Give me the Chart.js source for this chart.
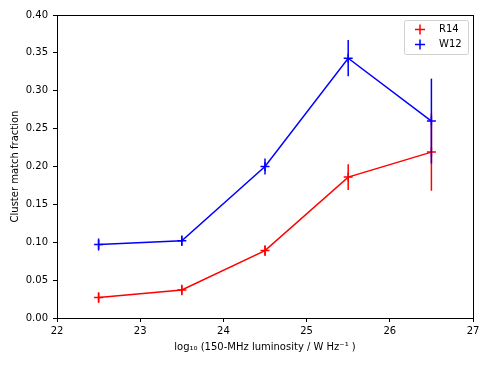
<!DOCTYPE html>
<html lang="en">
<head>
    <meta charset="UTF-8">
    <title>Cluster match fraction</title>
    <script src="https://cdn.jsdelivr.net/npm/chart.js"></script>
    <style>
        body {
            margin: 0;
            background-color: #fff;
        }
        #box {
            width: 490px;
            height: 368px;
        }
    </style>
</head>
<body>

<div id="box">
    <canvas id="grafico"></canvas>
</div>

<script>
const luminosity = [22.5, 23.5, 24.5, 25.5, 26.5];
const r14Fraction = [0.027, 0.037, 0.089, 0.186, 0.219];
const r14Error = [0.007, 0.007, 0.007, 0.017, 0.051];
const w12Fraction = [0.097, 0.102, 0.200, 0.343, 0.260];
const w12Error = [0.008, 0.007, 0.0105, 0.024, 0.056];
const xTicks = [22, 23, 24, 25, 26, 27];
const yTicks = [0, 0.05, 0.10, 0.15, 0.20, 0.25, 0.30, 0.35, 0.40];

const FONT = "'DejaVu Sans', sans-serif";

function toPoints(xs, ys) {
    return xs.map((x, i) => ({ x: x, y: ys[i] }));
}

// vertical error bars, drawn right after each dataset
const errorBars = {
    id: 'errorBars',
    afterDatasetDraw(chart, args) {
        const ds = chart.data.datasets[args.index];
        if (!ds.errors) return;
        const ctx = chart.ctx;
        const xs = chart.scales.x;
        const ys = chart.scales.y;
        ctx.save();
        ctx.strokeStyle = ds.borderColor;
        ctx.lineWidth = 1.5;
        ds.data.forEach((p, i) => {
            const px = xs.getPixelForValue(p.x);
            ctx.beginPath();
            ctx.moveTo(px, ys.getPixelForValue(p.y - ds.errors[i]));
            ctx.lineTo(px, ys.getPixelForValue(p.y + ds.errors[i]));
            ctx.stroke();
        });
        ctx.restore();
    }
};

// axes frame on all four sides + legend box in the upper right
const frameLegend = {
    id: 'frameLegend',
    afterDraw(chart) {
        const ctx = chart.ctx;
        const a = chart.chartArea;
        ctx.save();
        ctx.strokeStyle = '#000';
        ctx.lineWidth = 1;
        ctx.strokeRect(Math.round(a.left) + 0.5, Math.round(a.top) + 0.5,
            Math.round(a.right - a.left), Math.round(a.bottom - a.top));

        const bx = a.right - 69, by = a.top + 5, bw = 64, bh = 34;
        ctx.beginPath();
        ctx.roundRect(bx + 0.5, by + 0.5, bw, bh, 2);
        ctx.fillStyle = 'rgba(255,255,255,0.8)';
        ctx.fill();
        ctx.strokeStyle = '#d0d0d0';
        ctx.stroke();

        const items = chart.data.datasets.map(d => ({ label: d.label, color: d.borderColor }));
        ctx.font = '10px ' + FONT;
        ctx.textBaseline = 'middle';
        items.forEach((it, i) => {
            const cy = by + 9.5 + i * 15;
            const cx = bx + 16;
            ctx.strokeStyle = it.color;
            ctx.lineWidth = 1.5;
            ctx.beginPath();
            ctx.moveTo(cx - 5, cy); ctx.lineTo(cx + 5, cy);
            ctx.moveTo(cx, cy - 5); ctx.lineTo(cx, cy + 5);
            ctx.stroke();
            ctx.fillStyle = '#000';
            ctx.fillText(it.label, bx + 35, cy);
        });
        ctx.restore();
    }
};

const ctx = document.getElementById('grafico').getContext('2d');

new Chart(ctx, {
    type: 'line',
    data: {
        datasets: [{
            label: 'R14',
            data: toPoints(luminosity, r14Fraction),
            errors: r14Error,
            borderColor: '#ff0000',
            backgroundColor: '#ff0000',
            borderWidth: 1.5,
            pointStyle: 'cross',
            pointRadius: 4.5,
            pointBorderWidth: 1.5,
            tension: 0,
            order: 1
        }, {
            label: 'W12',
            data: toPoints(luminosity, w12Fraction),
            errors: w12Error,
            borderColor: '#0000ff',
            backgroundColor: '#0000ff',
            borderWidth: 1.5,
            pointStyle: 'cross',
            pointRadius: 4.5,
            pointBorderWidth: 1.5,
            tension: 0,
            order: 0
        }]
    },
    options: {
        responsive: true,
        maintainAspectRatio: false,
        animation: false,
        layout: {
            padding: { top: 15, right: 17, left: 0, bottom: 0 }
        },
        plugins: {
            legend: { display: false },
            tooltip: { enabled: false }
        },
        scales: {
            x: {
                type: 'linear',
                min: 22,
                max: 27,
                afterBuildTicks: axis => { axis.ticks = xTicks.map(v => ({ value: v })); },
                afterFit: axis => { axis.height = 50; },
                ticks: {
                    color: '#000',
                    font: { family: FONT, size: 10 },
                    padding: 3,
                    callback: v => String(v)
                },
                grid: {
                    drawOnChartArea: false,
                    drawTicks: true,
                    tickLength: 4,
                    tickColor: '#000'
                },
                border: { color: '#000' },
                title: {
                    display: true,
                    text: 'log\u2081\u2080 (150-MHz luminosity / W Hz\u207B\u00B9 )',
                    color: '#000',
                    font: { family: FONT, size: 10 },
                    padding: { top: 0, bottom: 15 }
                }
            },
            y: {
                type: 'linear',
                min: 0,
                max: 0.4,
                afterBuildTicks: axis => { axis.ticks = yTicks.map(v => ({ value: v })); },
                afterFit: axis => { axis.width = 57; },
                ticks: {
                    color: '#000',
                    font: { family: FONT, size: 10 },
                    padding: 5,
                    callback: v => v.toFixed(2)
                },
                grid: {
                    drawOnChartArea: false,
                    drawTicks: true,
                    tickLength: 4,
                    tickColor: '#000'
                },
                border: { color: '#000' },
                title: {
                    display: true,
                    text: 'Cluster match fraction',
                    color: '#000',
                    font: { family: FONT, size: 10 },
                    padding: { top: 9, bottom: 0 }
                }
            }
        }
    },
    plugins: [errorBars, frameLegend]
});
</script>

</body>
</html>
